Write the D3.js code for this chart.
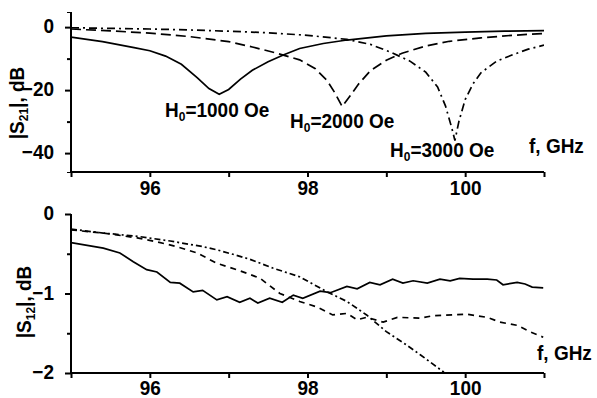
<!DOCTYPE html>
<html>
<head>
<meta charset="utf-8">
<script src="https://cdn.jsdelivr.net/npm/d3@7"></script>
<style>
  body { margin: 0; background: #fff; }
  svg text { font-family: "Liberation Sans", Arial, sans-serif; font-weight: bold; fill: #000; }
  svg text.tall { transform-box: fill-box; transform-origin: 50% 100%; transform: scaleY(1.1); }
</style>
</head>
<body>
<div id="chart"></div>
<script>
// |S21| curves, [f GHz, dB]
const s21_1000 = [[95.0,-3.2],[95.4,-4.6],[95.8,-6.5],[96.0,-7.5],[96.2,-9.2],[96.4,-11.8],[96.6,-16],[96.75,-19.5],[96.88,-21.3],
  [97.0,-19.8],[97.15,-16.5],[97.3,-13.7],[97.5,-11],[97.7,-8.8],[97.9,-6.8],[98.2,-5.2],[98.5,-4.1],[99.0,-2.8],[99.5,-2.0],[100.0,-1.6],[100.5,-1.3],[101.0,-1.1]];
const s21_2000 = [[95.0,-0.6],[95.5,-1.2],[96.0,-1.9],[96.5,-3.0],[97.0,-4.6],[97.3,-6.3],[97.6,-8.2],[97.9,-10.4],[98.1,-13.2],[98.25,-17],[98.35,-21],
  [98.44,-25.2],[98.55,-21.5],[98.65,-18],[98.8,-13.8],[99.0,-10.5],[99.2,-8.3],[99.5,-6.0],[99.8,-4.5],[100.2,-3.4],[100.6,-2.6],[101.0,-2.0]];
const s21_3000 = [[95.0,-0.2],[95.5,-0.4],[96.0,-0.6],[96.5,-0.9],[97.0,-1.3],[97.5,-1.8],[98.0,-2.6],[98.5,-3.9],[98.8,-5.5],[99.05,-7.9],[99.3,-10.8],
  [99.5,-14.3],[99.65,-19],[99.75,-25],[99.83,-32],[99.87,-36],[99.92,-30],[100.0,-23],[100.1,-18],[100.2,-14.5],[100.4,-10.8],[100.6,-8.8],[100.8,-7.0],[101.0,-5.7]];

// |S12| curves
const s12_1000 = [[95.0,-0.36],[95.41,-0.43],[95.62,-0.49],[95.79,-0.60],[95.96,-0.70],[96.09,-0.73],[96.26,-0.86],[96.38,-0.87],[96.55,-0.98],[96.67,-0.96],
  [96.85,-1.08],[96.98,-1.04],[97.14,-1.11],[97.27,-1.06],[97.37,-1.12],[97.52,-1.06],[97.68,-1.11],[97.82,-1.02],[97.94,-1.06],[98.16,-0.97],[98.29,-0.99],
  [98.50,-0.91],[98.63,-0.94],[98.79,-0.86],[98.92,-0.89],[99.08,-0.82],[99.21,-0.87],[99.34,-0.84],[99.52,-0.87],[99.68,-0.82],[99.81,-0.84],[99.93,-0.81],
  [100.10,-0.82],[100.28,-0.82],[100.40,-0.83],[100.48,-0.89],[100.66,-0.86],[100.76,-0.88],[100.85,-0.92],[100.99,-0.93]];
const s12_2000 = [[95.0,-0.2],[95.41,-0.24],[95.84,-0.30],[96.09,-0.35],[96.34,-0.41],[96.6,-0.49],[96.85,-0.62],[97.1,-0.70],[97.27,-0.76],[97.4,-0.81],
  [97.65,-1.0],[97.9,-1.1],[98.12,-1.17],[98.32,-1.27],[98.5,-1.25],[98.63,-1.33],[98.75,-1.30],[98.96,-1.36],[99.14,-1.30],[99.43,-1.31],[99.59,-1.28],
  [100.02,-1.26],[100.28,-1.30],[100.44,-1.36],[100.66,-1.40],[100.82,-1.48],[100.99,-1.55]];
const s12_3000 = [[95.0,-0.19],[95.41,-0.24],[95.84,-0.28],[96.26,-0.34],[96.67,-0.41],[96.85,-0.45],[97.1,-0.52],[97.27,-0.57],[97.56,-0.68],[97.9,-0.79],
  [98.25,-0.98],[98.5,-1.1],[98.75,-1.27],[99.0,-1.48],[99.26,-1.65],[99.43,-1.77],[99.73,-1.99]];

const xTicksMajor = [96, 98, 100];
const xTicksMinor = [95, 97, 99, 101];
const topTicksMajor = [0, -20, -40];
const topTicksMinor = [-10, -30];
const botTicksMajor = [0, -1, -2];
const botTicksMinor = [-0.5, -1.5];

const width = 597, height = 398;
const svg = d3.select("#chart").append("svg")
  .attr("width", width).attr("height", height);

const x = d3.scaleLinear().domain([95, 101]).range([71, 544]);
const yTop = d3.scaleLinear().domain([-46, 4.8]).range([172, 12]);
const yBot = d3.scaleLinear().domain([-2, 0]).range([373, 214]);

const styles = { solid: null, dash: "10,5", dashdot: "8,4,2,4" };
const stylesBot = { solid: null, dash: "6,5", dashdot: "6,3,2,3" };

function drawPanel(y, yMajor, yMinor, series, dashes, clipId, xPad) {
  // clip to plot area
  svg.append("clipPath").attr("id", clipId).append("rect")
    .attr("x", x.range()[0]).attr("y", y.range()[1])
    .attr("width", x.range()[1] - x.range()[0])
    .attr("height", y.range()[0] - y.range()[1]);

  const line = d3.line().x(d => x(d[0])).y(d => y(d[1]));
  series.forEach(s => {
    svg.append("path")
      .datum(s.data)
      .attr("clip-path", `url(#${clipId})`)
      .attr("d", line)
      .attr("fill", "none")
      .attr("stroke", "#000")
      .attr("stroke-width", 1.7)
      .attr("stroke-dasharray", dashes[s.style]);
  });

  const gx = svg.append("g").attr("transform", `translate(0,${y.range()[0]})`);
  gx.call(d3.axisBottom(x).tickValues(xTicksMajor).tickSize(5).tickPadding(xPad).tickFormat(d3.format("d")));
  gx.append("g").call(d3.axisBottom(x).tickValues(xTicksMinor).tickSize(5).tickFormat(""));

  const gy = svg.append("g").attr("transform", `translate(${x.range()[0]},0)`);
  gy.call(d3.axisLeft(y).tickValues(yMajor).tickSize(6).tickPadding(11).tickFormat(d3.format("d")));
  gy.append("g").call(d3.axisLeft(y).tickValues(yMinor).tickSize(4).tickFormat(""));

  [gx, gy].forEach(g => {
    g.selectAll(".tick line").attr("stroke", "#000").attr("stroke-width", 2);
    g.selectAll("text").attr("class", "tall").style("font-size", "19px")
      .style("font-family", "Liberation Sans, Arial, sans-serif")
      .style("font-weight", "bold").attr("fill", "#000");
  });
  // plain axis lines (no end caps)
  gx.select(".domain").attr("stroke-width", 2).attr("d", `M${x.range()[0]},0H${x.range()[1]}`);
  gy.select(".domain").attr("stroke-width", 2).attr("d", `M0,${y.range()[1]}V${y.range()[0]}`);
}

drawPanel(yTop, topTicksMajor, topTicksMinor, [
  { data: s21_1000, style: "solid" },
  { data: s21_2000, style: "dash" },
  { data: s21_3000, style: "dashdot" }
], styles, "clipTop", 5);

drawPanel(yBot, botTicksMajor, botTicksMinor, [
  { data: s12_1000, style: "solid" },
  { data: s12_2000, style: "dash" },
  { data: s12_3000, style: "dashdot" }
], stylesBot, "clipBot", 4);

// Labels
function fieldLabel(xp, yp, value) {
  const t = svg.append("text").attr("class", "tall").attr("x", xp).attr("y", yp).style("font-size", "19px");
  t.append("tspan").text("H");
  t.append("tspan").text("0").style("font-size", "12px").attr("dy", 3);
  t.append("tspan").text("=" + value + " Oe").attr("dy", -3);
}
fieldLabel(165, 118, "1000");
fieldLabel(290, 129, "2000");
fieldLabel(390, 158, "3000");

svg.append("text").attr("class", "tall").attr("x", 529).attr("y", 153).style("font-size", "19px").text("f, GHz");
svg.append("text").attr("class", "tall").attr("x", 537).attr("y", 360).style("font-size", "19px").text("f, GHz");

function yTitle(cx, cy, sub) {
  const t = svg.append("text")
    .attr("transform", `translate(${cx},${cy}) rotate(-90) scale(1,1.1)`)
    .attr("text-anchor", "middle")
    .attr("dy", "0.35em")
    .style("font-size", "19px");
  t.append("tspan").text("|S");
  t.append("tspan").text(sub).style("font-size", "12px").attr("dy", 3);
  t.append("tspan").text("|, dB").attr("dy", -3);
}
yTitle(17, 103, "21");
yTitle(24, 302, "12");
</script>
</body>
</html>
